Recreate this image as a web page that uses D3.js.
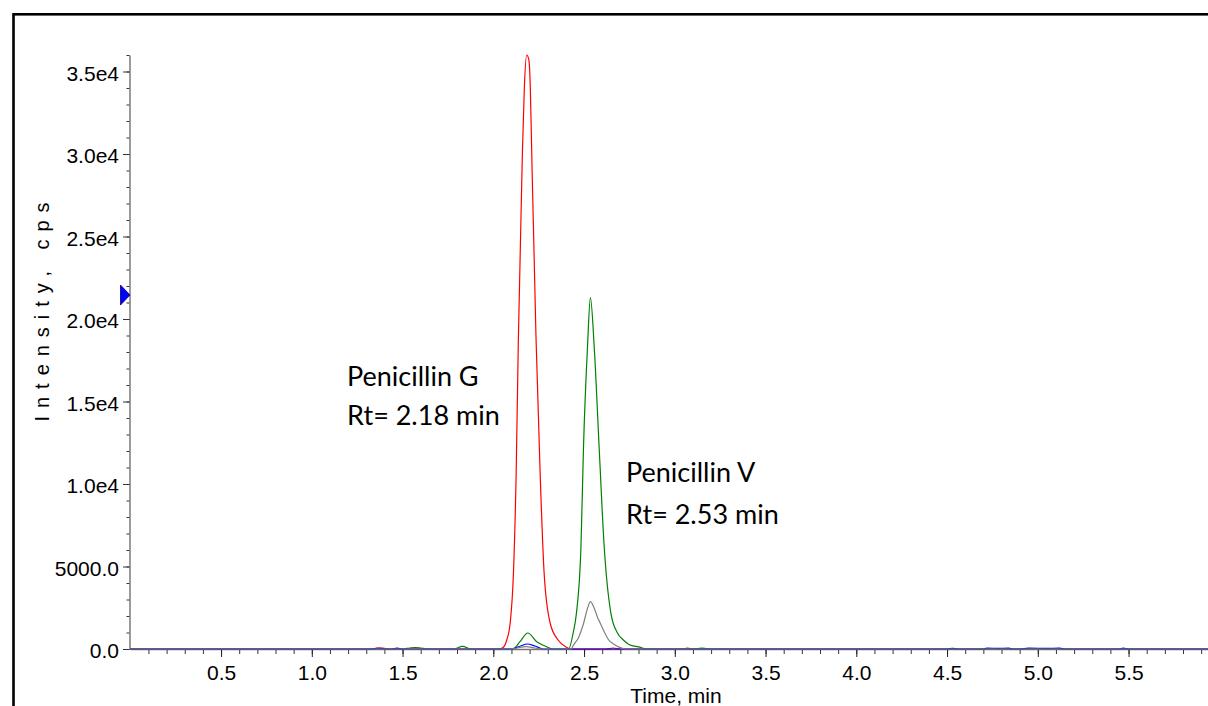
<!DOCTYPE html>
<html>
<head>
<meta charset="utf-8">
<script src="https://cdn.jsdelivr.net/npm/d3@7/dist/d3.min.js"></script>
<style>
  body { margin: 0; background: #fff; }
  svg { display: block; }
</style>
</head>
<body>
<svg id="chart" width="1208" height="706"></svg>
<script>
// Extracted-ion chromatogram traces: retention time (min) and intensity (cps)
const redTime = [0, 1.34, 1.38, 1.42, 2.02, 2.05, 2.074, 2.093, 2.111, 2.126, 2.138, 2.160, 2.171, 2.184, 2.196, 2.204, 2.212, 2.235, 2.258, 2.280, 2.313, 2.357, 2.40, 2.43, 2.62, 2.66, 2.70, 3.04, 3.07, 3.10, 6.0];
const redIntensity = [0, 0, 70, 0, 0, 60, 545, 1576, 4606, 10666, 18727, 29939, 34000, 36000, 35700, 34000, 29939, 19000, 10666, 4606, 1576, 545, 120, 0, 0, 60, 0, 0, 60, 0, 0];

const greenTime = [0, 1.50, 1.54, 1.57, 1.60, 1.64, 1.78, 1.83, 1.88, 2.10, 2.111, 2.147, 2.19, 2.239, 2.285, 2.33, 2.415, 2.44, 2.458, 2.483, 2.497, 2.519, 2.535, 2.556, 2.583, 2.611, 2.648, 2.684, 2.715, 2.75, 2.80, 2.85, 3.10, 3.15, 3.20, 6.0];
const greenIntensity = [0, 0, 60, 90, 60, 0, 0, 160, 0, 0, 20, 442, 970, 442, 180, 0, 0, 970, 2164, 6200, 12259, 18319, 21300, 18319, 12259, 6200, 2164, 970, 560, 260, 130, 0, 0, 50, 0, 0];

const blueTime = [0, 1.33, 1.36, 1.40, 1.44, 1.47, 1.50, 2.10, 2.111, 2.15, 2.188, 2.23, 2.276, 4.50, 4.53, 4.56, 4.70, 4.72, 4.78, 4.84, 4.86, 4.90, 4.95, 5.05, 5.12, 5.15, 5.45, 5.47, 5.50, 6.0];
const blueIntensity = [0, 0, 60, 0, 0, 50, 0, 0, 20, 180, 303, 180, 0, 0, 40, 0, 0, 50, 40, 50, 0, 0, 50, 40, 50, 0, 0, 50, 0, 0];

const grayTime = [0, 2.10, 2.13, 2.18, 2.23, 2.27, 2.43, 2.44, 2.47, 2.496, 2.52, 2.535, 2.555, 2.575, 2.59, 2.615, 2.635, 2.662, 2.70, 2.73, 6.0];
const grayIntensity = [0, 0, 60, 150, 60, 0, 0, 200, 700, 1500, 2500, 2866, 2500, 1900, 1550, 950, 560, 300, 80, 0, 0];

// Axis ticks and labels
const yTickValues = [0, 5000, 10000, 15000, 20000, 25000, 30000, 35000];
const yTickLabels = ["0.0", "5000.0", "1.0e4", "1.5e4", "2.0e4", "2.5e4", "3.0e4", "3.5e4"];
const xTickValues = [0.5, 1.0, 1.5, 2.0, 2.5, 3.0, 3.5, 4.0, 4.5, 5.0, 5.5];
const xTickLabels = ["0.5", "1.0", "1.5", "2.0", "2.5", "3.0", "3.5", "4.0", "4.5", "5.0", "5.5"];

// Peak annotations
const peakNames = ["Penicillin G", "Penicillin V"];
const peakRt = [2.18, 2.53];

// Intensity level of the threshold cursor on the y axis
const cursorIntensity = 21450;

const svg = d3.select("#chart");
const x = d3.scaleLinear().domain([0, 6]).range([130.3, 130.3 + 6 * 181.5]);
const y = d3.scaleLinear().domain([0, 36000]).range([649, 55]);

// Frame around the plot
svg.append("rect")
  .attr("x", 13.5).attr("y", 14.3)
  .attr("width", 1400).attr("height", 900)
  .attr("fill", "none").attr("stroke", "#000").attr("stroke-width", 2.6);

const font = "'Liberation Sans', Arial, sans-serif";

// Minor ticks
svg.append("g")
  .attr("transform", "translate(129.5,0)")
  .call(d3.axisLeft(y).tickValues(d3.range(0, 36001, 1000)).tickSize(3).tickSizeOuter(0).tickFormat(""))
  .call(g => g.select(".domain").remove())
  .call(g => g.selectAll("line").attr("stroke", "#333"));

svg.append("g")
  .attr("transform", "translate(0,649)")
  .call(d3.axisBottom(x).tickValues(d3.range(1, 60).map(i => i / 10)).tickSize(5).tickSizeOuter(0).tickFormat(""))
  .call(g => g.select(".domain").remove())
  .call(g => g.selectAll("line").attr("stroke", "#333"));

// Major ticks with labels
const yAxis = svg.append("g")
  .attr("transform", "translate(129.5,0)")
  .call(d3.axisLeft(y).tickValues(yTickValues).tickFormat((d, i) => yTickLabels[i]).tickSize(6.5).tickPadding(4).tickSizeOuter(0));
yAxis.select(".domain").attr("stroke", "#666").attr("stroke-width", 1.3);
yAxis.selectAll("line").attr("stroke", "#333");
yAxis.selectAll("text").attr("font-family", font).attr("font-size", 21).attr("fill", "#000").attr("dy", "0.42em");

const xAxis = svg.append("g")
  .attr("transform", "translate(0,649)")
  .call(d3.axisBottom(x).tickValues(xTickValues).tickFormat((d, i) => xTickLabels[i]).tickSize(8).tickPadding(8).tickSizeOuter(0));
xAxis.select(".domain").attr("stroke", "#777").attr("stroke-width", 1.6);
xAxis.selectAll("line").attr("stroke", "#222");
xAxis.selectAll("text").attr("font-family", font).attr("font-size", 21).attr("fill", "#000");

// Traces
const line = d3.line().x(d => x(d[0])).y(d => y(d[1])).curve(d3.curveMonotoneX);
const traces = [
  { t: redTime, v: redIntensity, color: "#ff0000" },
  { t: greenTime, v: greenIntensity, color: "#008000" },
  { t: blueTime, v: blueIntensity, color: "#0000ff" },
  { t: grayTime, v: grayIntensity, color: "#808080" }
];
traces.forEach(tr => {
  svg.append("path")
    .datum(d3.zip(tr.t, tr.v))
    .attr("d", line)
    .attr("fill", "none")
    .attr("stroke", tr.color)
    .attr("stroke-width", 1.2)
    .attr("stroke-linejoin", "round");
});

// Cursor marker on the y axis
const yc = y(cursorIntensity);
svg.append("path")
  .attr("d", `M120.5,${yc - 10}L120.5,${yc + 10}L130,${yc}Z`)
  .attr("fill", "#0000ff").attr("stroke", "#00007a").attr("stroke-width", 0.8);

// Axis titles
svg.append("text")
  .attr("transform", "translate(49,308) rotate(-90)")
  .attr("text-anchor", "middle")
  .attr("font-family", font).attr("font-size", 20)
  .attr("letter-spacing", 8)
  .text("Intensity, cps");

svg.append("text")
  .attr("x", 676).attr("y", 703)
  .attr("text-anchor", "middle")
  .attr("font-family", font).attr("font-size", 21)
  .text("Time, min");

// Peak labels
const annFont = "Lato, 'Open Sans', sans-serif";
const annPos = [{ x: 347, y1: 386, y2: 425 }, { x: 626, y1: 482, y2: 524 }];
peakNames.forEach((name, i) => {
  svg.append("text").attr("x", annPos[i].x).attr("y", annPos[i].y1)
    .attr("font-family", annFont).attr("font-size", 27).text(name);
  svg.append("text").attr("x", annPos[i].x).attr("y", annPos[i].y2)
    .attr("font-family", annFont).attr("font-size", 27).text(`Rt= ${peakRt[i].toFixed(2)} min`);
});
</script>
</body>
</html>
